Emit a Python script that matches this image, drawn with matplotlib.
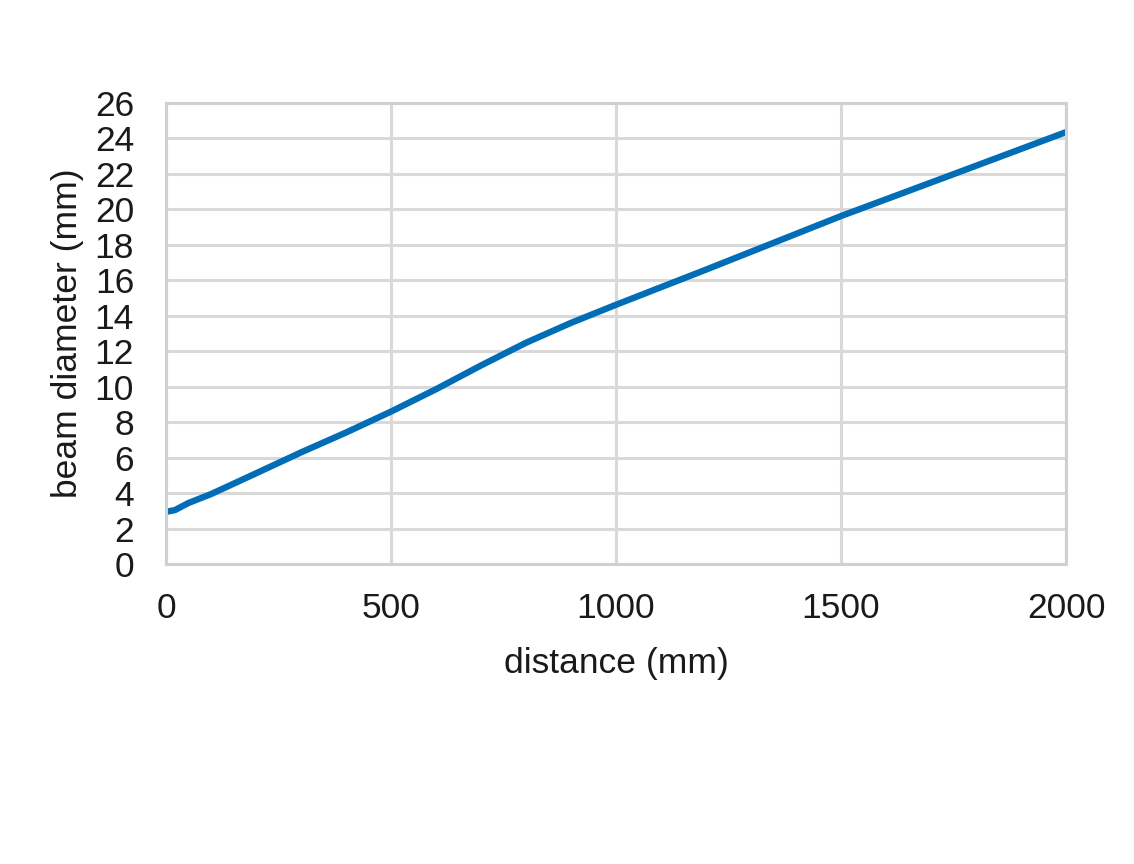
import matplotlib.pyplot as plt

# Values
distance = [0, 20, 50, 100, 200, 300, 400, 500, 600, 700, 800, 900, 1000, 1200, 1500, 1750, 2000]
diameter = [2.95, 3.05, 3.45, 3.95, 5.12, 6.3, 7.42, 8.6, 9.86, 11.2, 12.48, 13.6, 14.62, 16.6, 19.62, 21.98, 24.35]

x_ticks = [0, 500, 1000, 1500, 2000]
y_ticks = list(range(0, 27, 2))

plt.rcParams['font.family'] = ['Liberation Sans', 'DejaVu Sans']

fig = plt.figure(figsize=(11.34, 8.64), dpi=100)
ax = fig.add_axes([0.1464, 0.347, 0.7937, 0.534])

ax.plot(distance, diameter, color='#006DB6', linewidth=4.6, solid_capstyle='round')

ax.set_xlim(0, 2000)
ax.set_ylim(0, 26)
ax.set_xticks(x_ticks)
ax.set_yticks(y_ticks)

# light grey grid, no tick marks
ax.grid(True, color='#d9d9d9', linewidth=2.2)
ax.set_axisbelow(True)
for s in ax.spines.values():
    s.set_color('#d0d0d0')
    s.set_linewidth(2.2)
ax.tick_params(length=0, labelsize=25.5, colors='#1a1a1a')
ax.tick_params(axis='x', pad=20)
ax.tick_params(axis='y', pad=23)

ax.set_xlabel('distance (mm)', fontsize=25.5, color='#1a1a1a', labelpad=16)
ax.set_ylabel('beam diameter (mm)', fontsize=25.5, color='#1a1a1a', labelpad=8)

fig.savefig('out.png', dpi=100, facecolor='white')
